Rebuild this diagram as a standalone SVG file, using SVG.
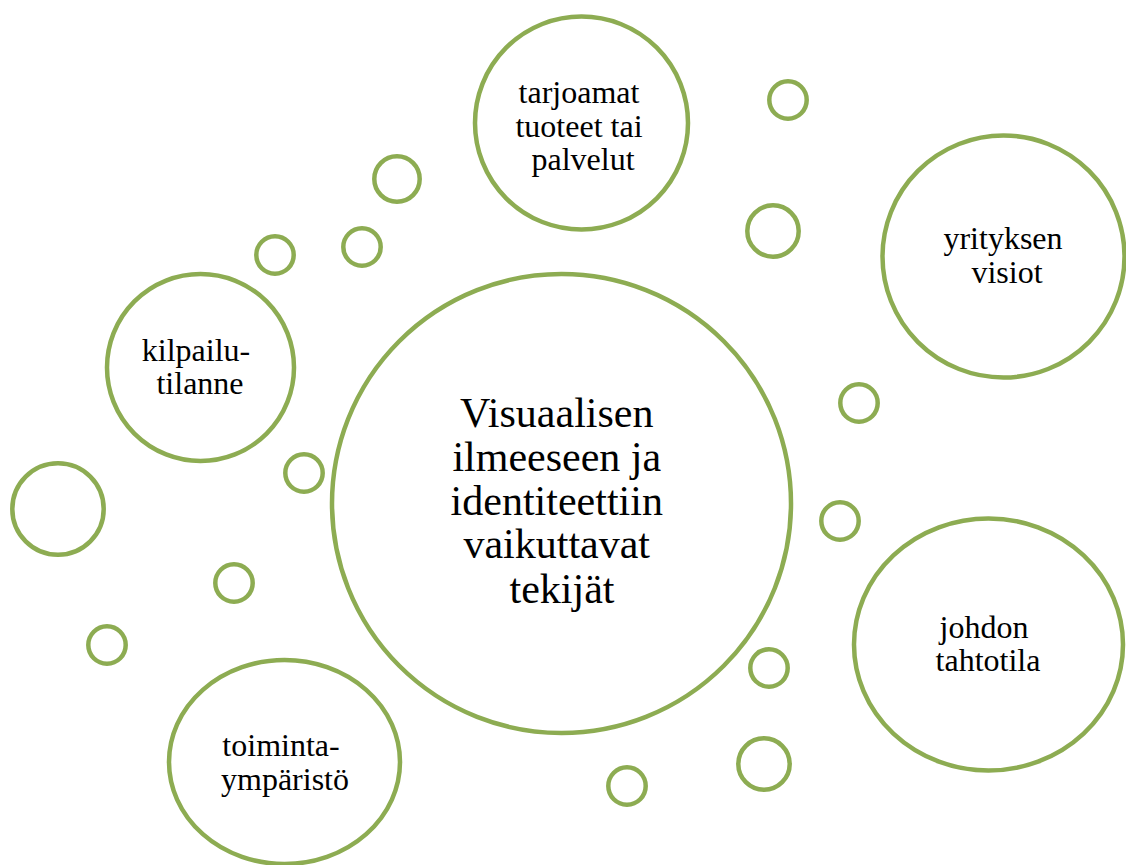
<svg xmlns="http://www.w3.org/2000/svg" width="1126" height="865" viewBox="0 0 1126 865">
  <style>
    .ring { fill: #ffffff; stroke: #8DAC52; stroke-width: 4.5; }
    .dot { fill: none; stroke: #8DAC52; stroke-width: 4.5; }
    .lbl { font-family: 'Liberation Serif', 'DejaVu Serif', 'Times New Roman', Times, serif; font-size: 32px; fill: #000000; text-anchor: middle; }
    .main { font-size: 42px; }
  </style>
  <rect width="1126" height="865" fill="#ffffff"/>

  <!-- small decorative bubbles -->
  <g id="bubbles">
    <circle class="dot" cx="788" cy="100" r="18.7"/>
    <circle class="dot" cx="397" cy="179" r="22.7"/>
    <circle class="dot" cx="773" cy="231" r="25.7"/>
    <circle class="dot" cx="275" cy="255" r="18.7"/>
    <circle class="dot" cx="362" cy="247" r="18.7"/>
    <circle class="dot" cx="859" cy="403" r="18.7"/>
    <circle class="dot" cx="304" cy="473" r="18.7"/>
    <circle class="dot" cx="58" cy="509" r="45.7"/>
    <circle class="dot" cx="840" cy="521" r="18.7"/>
    <circle class="dot" cx="234" cy="583" r="18.7"/>
    <circle class="dot" cx="107" cy="645" r="18.7"/>
    <circle class="dot" cx="769" cy="668" r="18.7"/>
    <circle class="dot" cx="764" cy="764" r="25.7"/>
    <circle class="dot" cx="627" cy="786" r="18.7"/>
  </g>

  <!-- central topic -->
  <g id="center">
    <circle class="ring" cx="561.5" cy="503.5" r="229.5"/>
    <text class="lbl main" font-family="Liberation Serif, DejaVu Serif, serif">
      <tspan x="562" y="427">Visuaalisen</tspan>
      <tspan x="562" y="471">ilmeeseen ja</tspan>
      <tspan x="562" y="515">identiteettiin</tspan>
      <tspan x="562" y="558">vaikuttavat</tspan>
      <tspan x="562" y="603">tekijät</tspan>
    </text>
  </g>

  <g id="tarjoamat">
    <circle class="ring" cx="581.5" cy="123" r="106.5"/>
    <text class="lbl" font-family="Liberation Serif, DejaVu Serif, serif">
      <tspan x="583" y="102.5">tarjoamat</tspan>
      <tspan x="583" y="136.5">tuoteet tai</tspan>
      <tspan x="583" y="170">palvelut</tspan>
    </text>
  </g>

  <g id="visiot">
    <circle class="ring" cx="1003.5" cy="256.5" r="121"/>
    <text class="lbl" font-family="Liberation Serif, DejaVu Serif, serif">
      <tspan x="1007" y="249">yrityksen</tspan>
      <tspan x="1007" y="283">visiot</tspan>
    </text>
  </g>

  <g id="kilpailu">
    <circle class="ring" cx="200.5" cy="367.5" r="93.5"/>
    <text class="lbl" font-family="Liberation Serif, DejaVu Serif, serif">
      <tspan x="200" y="361">kilpailu-</tspan>
      <tspan x="200" y="394">tilanne</tspan>
    </text>
  </g>

  <g id="johdon">
    <ellipse class="ring" cx="988.5" cy="644.5" rx="134.5" ry="126"/>
    <text class="lbl" font-family="Liberation Serif, DejaVu Serif, serif">
      <tspan x="988" y="638">johdon</tspan>
      <tspan x="988" y="671">tahtotila</tspan>
    </text>
  </g>

  <g id="toiminta">
    <ellipse class="ring" cx="284.5" cy="762" rx="115.5" ry="102"/>
    <text class="lbl" font-family="Liberation Serif, DejaVu Serif, serif">
      <tspan x="285" y="756">toiminta-</tspan>
      <tspan x="285" y="790">ympäristö</tspan>
    </text>
  </g>
</svg>
